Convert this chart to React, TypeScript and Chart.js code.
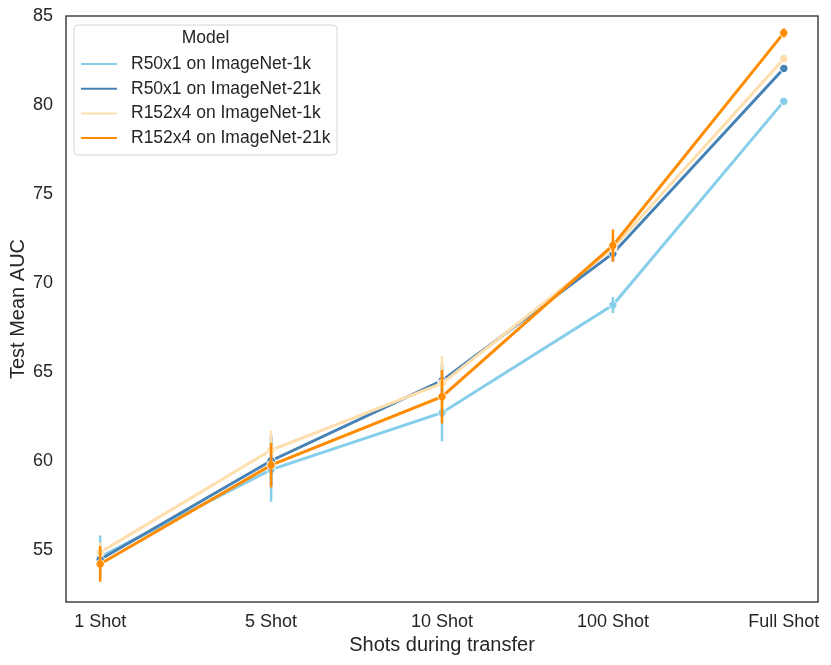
import React, { useEffect, useRef } from 'react';
import { Chart, registerables } from 'chart.js';

Chart.register(...registerables);

const categories = ['1 Shot', '5 Shot', '10 Shot', '100 Shot', 'Full Shot'];
const seriesNames = ['R50x1 on ImageNet-1k', 'R50x1 on ImageNet-21k', 'R152x4 on ImageNet-1k', 'R152x4 on ImageNet-21k'];
const seriesColors = ['#87CEEB', '#4682B4', '#FFDEAD', '#FF8C00'];

const r50_1k = [54.6, 59.5, 62.7, 68.75, 80.2];
const r50_1k_lo = [53.4, 57.7, 61.1, 68.3, 80.05];
const r50_1k_hi = [55.8, 61.3, 64.3, 69.2, 80.35];

const r50_21k = [54.45, 60.0, 64.5, 71.65, 82.05];
const r50_21k_lo = [53.9, 58.6, 63.6, 71.2, 81.9];
const r50_21k_hi = [55.0, 61.4, 65.4, 72.1, 82.2];

const r152_1k = [54.85, 60.6, 64.35, 71.95, 82.6];
const r152_1k_lo = [54.3, 59.5, 62.8, 71.4, 82.4];
const r152_1k_hi = [55.4, 61.7, 65.9, 72.5, 82.8];

const r152_21k = [54.2, 59.75, 63.6, 72.1, 84.05];
const r152_21k_lo = [53.2, 58.5, 62.1, 71.2, 83.8];
const r152_21k_hi = [55.2, 61.0, 65.1, 73.0, 84.3];

const yTicks = [55, 60, 65, 70, 75, 80, 85];

const seriesValues = [r50_1k, r50_21k, r152_1k, r152_21k];
const seriesLo = [r50_1k_lo, r50_21k_lo, r152_1k_lo, r152_21k_lo];
const seriesHi = [r50_1k_hi, r50_21k_hi, r152_1k_hi, r152_21k_hi];

const FONT = "'Liberation Sans', Arial, sans-serif";

const errorBarPlugin = {
  id: 'errorBars',
  afterDatasetDraw(chart: any, args: any) {
    const i = args.index;
    const ctx = chart.ctx;
    const xs = chart.scales.x;
    const ys = chart.scales.y;
    ctx.save();
    ctx.strokeStyle = seriesColors[i];
    ctx.lineWidth = 2.5;
    ctx.lineCap = 'butt';
    for (let k = 0; k < categories.length; k++) {
      const px = xs.getPixelForValue(k);
      ctx.beginPath();
      ctx.moveTo(px, ys.getPixelForValue(seriesLo[i][k]));
      ctx.lineTo(px, ys.getPixelForValue(seriesHi[i][k]));
      ctx.stroke();
    }
    ctx.restore();
  },
};

const framePlugin = {
  id: 'frameLegend',
  afterDraw(chart: any) {
    const ctx = chart.ctx;
    const a = chart.chartArea;
    ctx.save();
    ctx.strokeStyle = '#262626';
    ctx.lineWidth = 1.3;
    ctx.strokeRect(a.left, a.top, a.right - a.left, a.bottom - a.top);

    // legend
    const bx = a.left + 8, by = a.top + 9, bw = 263, bh = 130;
    ctx.beginPath();
    const r = 4;
    ctx.moveTo(bx + r, by);
    ctx.lineTo(bx + bw - r, by);
    ctx.quadraticCurveTo(bx + bw, by, bx + bw, by + r);
    ctx.lineTo(bx + bw, by + bh - r);
    ctx.quadraticCurveTo(bx + bw, by + bh, bx + bw - r, by + bh);
    ctx.lineTo(bx + r, by + bh);
    ctx.quadraticCurveTo(bx, by + bh, bx, by + bh - r);
    ctx.lineTo(bx, by + r);
    ctx.quadraticCurveTo(bx, by, bx + r, by);
    ctx.closePath();
    ctx.fillStyle = 'rgba(255,255,255,0.8)';
    ctx.fill();
    ctx.strokeStyle = '#d6d6d6';
    ctx.lineWidth = 1;
    ctx.stroke();

    ctx.fillStyle = '#262626';
    ctx.font = `17.5px ${FONT}`;
    ctx.textBaseline = 'middle';
    ctx.textAlign = 'center';
    ctx.fillText('Model', bx + bw / 2, by + 13);
    ctx.textAlign = 'left';
    for (let i = 0; i < seriesNames.length; i++) {
      const yy = by + 39 + i * 24.7;
      ctx.strokeStyle = seriesColors[i];
      ctx.lineWidth = 2;
      ctx.beginPath();
      ctx.moveTo(bx + 7, yy);
      ctx.lineTo(bx + 43, yy);
      ctx.stroke();
      ctx.fillText(seriesNames[i], bx + 57, yy);
    }
    ctx.restore();
  },
};

export default function App() {
  const ref = useRef<HTMLCanvasElement>(null);
  useEffect(() => {
    document.body.style.margin = '0';
    const canvas = ref.current!;
    const datasets = seriesNames.map((name, i) => ({
      label: name,
      data: seriesValues[i].map((v, k) => ({ x: k, y: v })),
      borderColor: seriesColors[i],
      backgroundColor: seriesColors[i],
      pointBackgroundColor: seriesColors[i],
      pointBorderColor: '#ffffff',
      pointBorderWidth: 1,
      pointRadius: 4.2,
      borderWidth: 3,
      tension: 0,
      order: seriesNames.length - 1 - i,
    }));
    const chart = new Chart(canvas, {
      type: 'line',
      data: { datasets },
      plugins: [errorBarPlugin, framePlugin],
      options: {
        animation: false,
        responsive: false,
        layout: { padding: { left: 0, top: 16, right: 13, bottom: 0 } },
        plugins: { legend: { display: false }, tooltip: { enabled: false } },
        scales: {
          x: {
            type: 'linear',
            min: -0.2,
            max: 4.2,
            grid: { display: false, drawTicks: false },
            border: { display: false },
            afterBuildTicks: (scale: any) => {
              scale.ticks = categories.map((_, k) => ({ value: k }));
            },
            afterFit: (scale: any) => {
              scale.height = 63;
              scale.paddingLeft = 0;
              scale.paddingRight = 0;
            },
            ticks: {
              padding: 9,
              color: '#262626',
              font: { family: FONT, size: 18 },
              maxRotation: 0,
              autoSkip: false,
              callback: (v: any) => categories[Math.round(Number(v))] ?? '',
            },
            title: {
              display: true,
              text: 'Shots during transfer',
              color: '#262626',
              font: { family: FONT, size: 20 },
              padding: { top: 0, bottom: 8 },
            },
          },
          y: {
            type: 'linear',
            min: 52.06,
            max: 85.0,
            grid: { display: false, drawTicks: false },
            border: { display: false },
            afterBuildTicks: (scale: any) => {
              scale.ticks = yTicks.map((v) => ({ value: v }));
            },
            afterFit: (scale: any) => {
              scale.width = 66;
              scale.paddingTop = 0;
              scale.paddingBottom = 0;
            },
            ticks: {
              padding: 13,
              color: '#262626',
              font: { family: FONT, size: 18 },
              callback: (v: any) => String(v),
            },
            title: {
              display: true,
              text: 'Test Mean AUC',
              color: '#262626',
              font: { family: FONT, size: 20 },
              padding: { top: 6, bottom: 0 },
            },
          },
        },
      },
    } as any);
    return () => chart.destroy();
  }, []);
  return (
    <div style={{ width: 831, height: 665, position: 'relative' }}>
      <canvas ref={ref} width={831} height={665} style={{ display: 'block', width: 831, height: 665 }} />
    </div>
  );
}
